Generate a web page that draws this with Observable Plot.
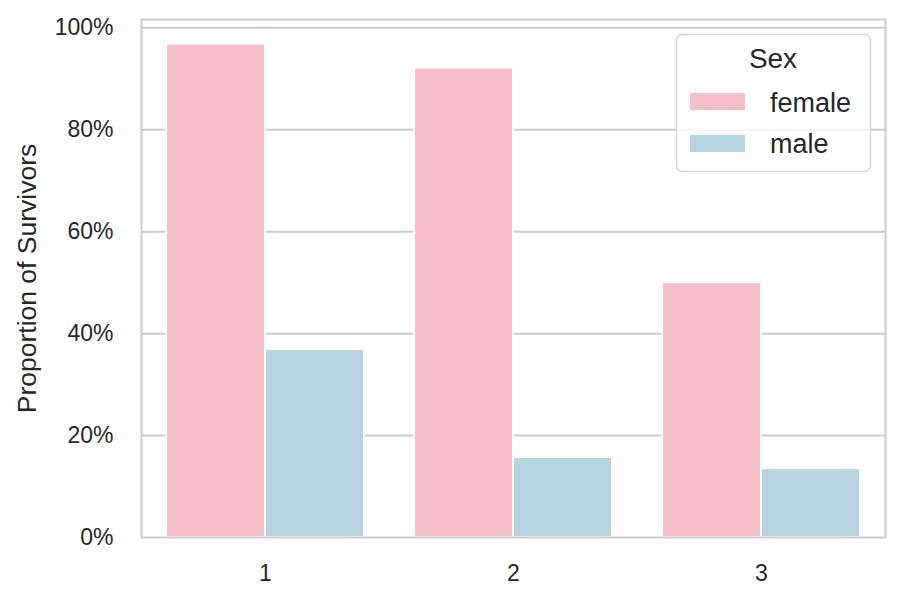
<!DOCTYPE html>
<html><head><meta charset="utf-8">
<script src="https://cdn.jsdelivr.net/npm/d3@7"></script>
<script src="https://cdn.jsdelivr.net/npm/@observablehq/plot@0.6"></script>
<style>
body{margin:0;background:#fff;}
#wrap{position:relative;width:903px;height:604px;}
</style></head><body><div id="wrap"></div>
<script>
const classes = [1, 2, 3];
const sexes = ["female", "male"];
const femaleRates = [0.968, 0.921, 0.500];
const maleRates = [0.369, 0.157, 0.135];
const colors = ["#f6bfc7", "#b4d4df"];
const yTicks = [0, 0.2, 0.4, 0.6, 0.8, 1.0];
const yLabel = "Proportion of Survivors";
const legendTitle = "Sex";

const data = classes.flatMap((c, i) => [
  {pclass: c, sex: sexes[0], rate: femaleRates[i]},
  {pclass: c, sex: sexes[1], rate: maleRates[i]}
]);
const yMax = d3.max(data, d => d.rate) * 1.05;
const font = "'Liberation Sans', Arial, sans-serif";

const chart = Plot.plot({
  width: 903, height: 604,
  marginLeft: 141, marginRight: 18, marginTop: 19, marginBottom: 67,
  style: {fontFamily: font, color: "#262626", background: "white"},
  fx: {domain: classes, padding: 0},
  x: {domain: sexes, paddingInner: 0, paddingOuter: 0.25},
  y: {domain: [0, yMax]},
  color: {domain: sexes, range: colors},
  marks: [
    Plot.gridY(yTicks.slice(1), {stroke: "#cccccc", strokeWidth: 2, strokeOpacity: 1}),
    Plot.barY(data, {fx: "pclass", x: "sex", y: "rate", fill: "sex", stroke: "white", strokeWidth: 2}),
    Plot.frame({stroke: "#cccccc", strokeWidth: 2, facet: "super"}),
    Plot.axisX({ticks: [], label: null, tickSize: 0}),
    Plot.axisFx({anchor: "bottom", tickSize: 0, tickPadding: 27, fontSize: 23, label: null, fill: "#262626"}),
    Plot.axisY(yTicks, {tickSize: 0, tickPadding: 28, fontSize: 23, tickFormat: d3.format(".0%"),
      label: yLabel, labelAnchor: "center", labelOffset: 124, labelArrow: "none", fill: "#262626"})
  ]
});
document.getElementById("wrap").appendChild(chart);

const svg = d3.select(chart);
svg.selectAll('g[aria-label="y-axis label"]').attr("font-size", 26.5);

// legend
const lg = svg.append("g").attr("font-family", font).attr("fill", "#262626");
lg.append("rect").attr("x", 676.5).attr("y", 34.5).attr("width", 194).attr("height", 137)
  .attr("rx", 6).attr("fill", "white").attr("fill-opacity", 0.8)
  .attr("stroke", "#d6d6d6").attr("stroke-width", 1.5);
lg.append("text").attr("x", 773).attr("y", 68).attr("text-anchor", "middle")
  .attr("font-size", 28).text(legendTitle);
sexes.forEach((s, i) => {
  lg.append("rect").attr("x", 690).attr("y", 93 + i * 42).attr("width", 55).attr("height", 17)
    .attr("fill", colors[i]);
  lg.append("text").attr("x", 770).attr("y", 111.5 + i * 41).attr("text-anchor", "start")
    .attr("font-size", 27).text(s);
});
</script></body></html>
